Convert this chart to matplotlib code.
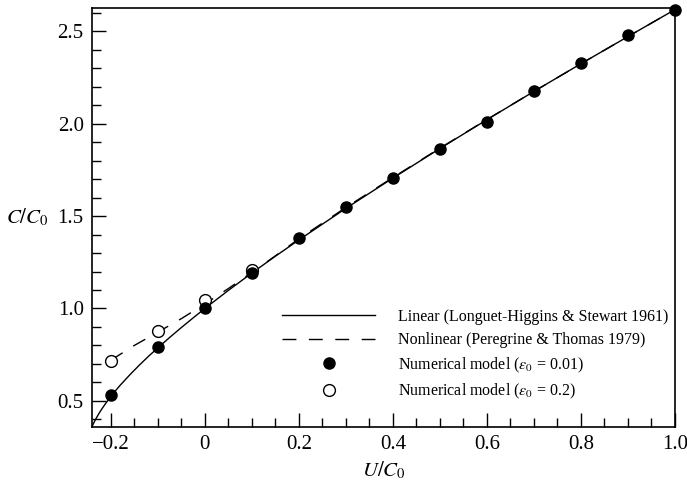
import matplotlib
matplotlib.use('Agg')
import matplotlib.pyplot as plt
from matplotlib.ticker import MultipleLocator

plt.rcParams['font.family'] = ['Liberation Serif', 'DejaVu Serif']
plt.rcParams['mathtext.fontset'] = 'stix'

# Linear theory (Longuet-Higgins & Stewart 1961)
lin_u = [-0.24, -0.238, -0.235, -0.23, -0.225, -0.22, -0.21, -0.2, -0.19, -0.18,
         -0.16, -0.14, -0.12, -0.1, -0.075, -0.05, -0.025, 0.0, 0.05, 0.1, 0.15,
         0.2, 0.3, 0.4, 0.5, 0.6, 0.7, 0.8, 0.9, 1.0]
lin_c = [0.36, 0.372, 0.388, 0.411, 0.433, 0.453, 0.49, 0.524, 0.555, 0.585,
         0.64, 0.692, 0.741, 0.787, 0.843, 0.897, 0.949, 1.0, 1.098, 1.192, 1.283,
         1.371, 1.542, 1.706, 1.866, 2.022, 2.175, 2.325, 2.472, 2.618]

# Nonlinear theory (Peregrine & Thomas 1979)
nl_u = [-0.2, -0.175, -0.15, -0.1, -0.05, 0.0, 0.05, 0.1, 0.15, 0.2, 0.3, 0.4,
        0.5, 0.6, 0.7, 0.8, 0.9, 1.0]
nl_c = [0.72, 0.76, 0.80, 0.872, 0.945, 1.025, 1.108, 1.195, 1.285, 1.377, 1.547,
        1.709, 1.868, 2.023, 2.175, 2.325, 2.472, 2.618]

# Numerical model, eps0 = 0.01
num1_u = [-0.2, -0.1, 0.0, 0.1, 0.2, 0.3, 0.4, 0.5, 0.6, 0.7, 0.8, 0.9, 1.0]
num1_c = [0.53, 0.789, 1.004, 1.192, 1.38, 1.55, 1.708, 1.865, 2.01, 2.18, 2.328, 2.48, 2.618]

# Numerical model, eps0 = 0.2
num2_u = [-0.2, -0.1, 0.0, 0.1]
num2_c = [0.718, 0.877, 1.047, 1.206]

fig = plt.figure(figsize=(6.87, 4.88), dpi=100)
ax = fig.add_axes([0.134, 0.1256, 0.8485, 0.8574])

ax.plot(lin_u, lin_c, color='black', lw=1.0, label='Linear (Longuet-Higgins & Stewart 1961)')
ax.plot(nl_u, nl_c, color='black', lw=1.0, dashes=(10, 9),
        label='Nonlinear (Peregrine & Thomas 1979)')
ax.plot(num1_u, num1_c, 'o', color='black', ms=8, zorder=4, clip_on=False,
        label=r'Numerical model ($\varepsilon_0$ = 0.01)')
ax.plot(num2_u, num2_c, 'o', mfc='white', mec='black', mew=1.0, ms=8.5, zorder=3,
        clip_on=False, label=r'Numerical model ($\varepsilon_0$ = 0.2)')

ax.set_xlim(-0.24, 1.0)
ax.set_ylim(0.36, 2.625)
ax.xaxis.set_major_locator(MultipleLocator(0.2))
ax.xaxis.set_minor_locator(MultipleLocator(0.05))
ax.yaxis.set_major_locator(MultipleLocator(0.5))
ax.yaxis.set_minor_locator(MultipleLocator(0.1))
ax.set_xticks([-0.2, 0, 0.2, 0.4, 0.6, 0.8, 1.0])
ax.set_xticklabels(['\u22120.2', '0', '0.2', '0.4', '0.6', '0.8', '1.0'])
ax.tick_params(which='both', direction='in', top=False, right=False, labelsize=15)
ax.tick_params(which='major', length=10, width=1.0, pad=6)
ax.tick_params(which='minor', length=6.5, width=1.0)
for sp in ax.spines.values():
    sp.set_linewidth(1.2)

ax.set_xlabel(r'$U/C_0$', fontsize=15, labelpad=4)
ax.set_ylabel(r'$C/C_0$', fontsize=15, rotation=0, labelpad=22, va='center')

ax.legend(loc='lower right', bbox_to_anchor=(1.0, 0.046), frameon=False, fontsize=11.5,
          handlelength=5.8, handletextpad=1.45, labelspacing=0.45, borderaxespad=0.0)

fig.savefig('out.png', dpi=100)
